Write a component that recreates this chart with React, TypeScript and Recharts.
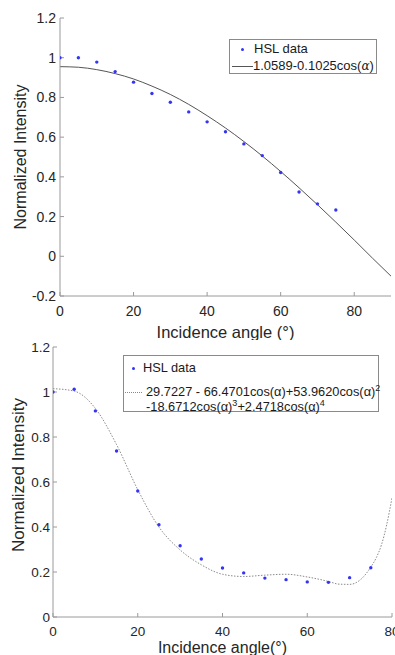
import React from 'react';
import { ComposedChart, Line, Scatter, XAxis, YAxis, Legend, Label } from 'recharts';

const FONT = '"Liberation Sans", Arial, Helvetica, sans-serif';

// ---- Top chart data ----
const topAngles = [0, 5, 10, 15, 20, 25, 30, 35, 40, 45, 50, 55, 60, 65, 70, 75];
const topIntensity = [1.0, 1.0, 0.978, 0.93, 0.877, 0.82, 0.776, 0.727, 0.677, 0.627, 0.566, 0.507, 0.422, 0.324, 0.264, 0.233];
const topFitAngles = [0, 5, 10, 15, 20, 25, 30, 35, 40, 45, 50, 55, 60, 65, 70, 75, 80, 85, 90];
const topFitValues = [0.955, 0.952, 0.94, 0.92, 0.893, 0.857, 0.815, 0.765, 0.708, 0.646, 0.578, 0.505, 0.427, 0.345, 0.26, 0.172, 0.082, -0.01, -0.1];
const topXTicks = [0, 20, 40, 60, 80];
const topYTicks = [-0.2, 0, 0.2, 0.4, 0.6, 0.8, 1, 1.2];

// ---- Bottom chart data ----
const bottomAngles = [0, 5, 10, 15, 20, 25, 30, 35, 40, 45, 50, 55, 60, 65, 70, 75];
const bottomIntensity = [1.0, 1.012, 0.916, 0.738, 0.56, 0.41, 0.317, 0.258, 0.218, 0.196, 0.173, 0.166, 0.156, 0.154, 0.175, 0.219];
const bottomFitAngles = [0, 5, 10, 15, 20, 25, 30, 35, 40, 45, 50, 55, 60, 65, 67.5, 70, 72.5, 75, 76.25, 77.5, 78.75, 80];
const bottomFitValues = [1.015, 1.004, 0.927, 0.766, 0.566, 0.4, 0.298, 0.232, 0.19, 0.18, 0.186, 0.19, 0.178, 0.158, 0.146, 0.145, 0.165, 0.222, 0.262, 0.32, 0.41, 0.53];
const bottomXTicks = [0, 20, 40, 60, 80];
const bottomYTicks = [0, 0.2, 0.4, 0.6, 0.8, 1, 1.2];

const topPoints = topAngles.map((x, i) => ({ x, y: topIntensity[i] }));
const topFit = topFitAngles.map((x, i) => ({ x, y: topFitValues[i] }));
const bottomPoints = bottomAngles.map((x, i) => ({ x, y: bottomIntensity[i] }));
const bottomFit = bottomFitAngles.map((x, i) => ({ x, y: bottomFitValues[i] }));

const AXIS = '#9a9a9a';
const TEXT = '#262626';
const BLUE = '#3434f4';

const fmt = (v: number) => String(Math.round(v * 10) / 10);
const noTick = () => <g />;
const dotShape = (p: any) => <circle cx={p.cx} cy={p.cy} r={1.7} fill={BLUE} />;

const TopLegend = () => (
  <div style={{ position: 'relative', width: 148, height: 35, border: '1px solid #8a8a8a', background: '#fff', boxSizing: 'border-box', fontFamily: FONT, fontSize: 13, color: '#1a1a1a' }}>
    <span style={{ position: 'absolute', left: 11, top: 8, width: 3.4, height: 3.4, borderRadius: 2, background: BLUE }} />
    <span style={{ position: 'absolute', left: 24, top: 1, lineHeight: '16px', whiteSpace: 'nowrap' }}>HSL data</span>
    <span style={{ position: 'absolute', left: 2, top: 26, width: 21, height: 1, background: '#555' }} />
    <span style={{ position: 'absolute', left: 23, top: 18, lineHeight: '16px', whiteSpace: 'nowrap' }}>
      1.0589-0.1025cos(<i style={{ fontFamily: '"DejaVu Serif", serif', fontSize: 12 }}>α</i>)
    </span>
  </div>
);

const BottomLegend = () => (
  <div style={{ position: 'relative', width: 256, height: 57, border: '1px solid #8a8a8a', background: '#fff', boxSizing: 'border-box', fontFamily: FONT, fontSize: 12.8, color: '#1a1a1a' }}>
    <span style={{ position: 'absolute', left: 8, top: 11, width: 3.4, height: 3.4, borderRadius: 2, background: BLUE }} />
    <span style={{ position: 'absolute', left: 19, top: 4, lineHeight: '16px', whiteSpace: 'nowrap' }}>HSL data</span>
    <span style={{ position: 'absolute', left: 1, top: 36, width: 17, height: 0, borderTop: '1px dotted #888' }} />
    <span style={{ position: 'absolute', left: 22, top: 24, lineHeight: '16px', whiteSpace: 'nowrap' }}>
      29.7227 - 66.4701cos(α)+53.9620cos(α)<sup style={{ fontSize: 9 }}>2</sup>
    </span>
    <span style={{ position: 'absolute', left: 22, top: 39, lineHeight: '16px', whiteSpace: 'nowrap' }}>
      -18.6712cos(α)<sup style={{ fontSize: 9 }}>3</sup>+2.4718cos(α)<sup style={{ fontSize: 9 }}>4</sup>
    </span>
  </div>
);

export default function App() {
  return (
    <div style={{ position: 'absolute', left: 0, top: 0, width: 395, height: 655, background: '#fff', overflow: 'hidden' }}>
      <div style={{ position: 'absolute', left: 0, top: 0 }}>
        <ComposedChart width={395} height={340} margin={{ top: 18, right: 4, bottom: 0, left: 0 }}>
          <XAxis xAxisId={0} dataKey="x" type="number" domain={[0, 90]} ticks={topXTicks} interval={0}
            stroke={AXIS} tickSize={-4} tickMargin={14} height={44} allowDataOverflow
            tick={{ fill: TEXT, fontSize: 14, fontFamily: FONT }}>
            <Label value="Incidence angle (°)" position="insideBottom" offset={2} style={{ fill: TEXT, fontSize: 16.5, fontFamily: FONT }} />
          </XAxis>
          <XAxis xAxisId="t" orientation="top" type="number" domain={[0, 90]} ticks={topXTicks} interval={0}
            stroke={AXIS} tickSize={-4} height={0} tick={noTick} allowDataOverflow />
          <YAxis yAxisId={0} type="number" domain={[-0.2, 1.2]} ticks={topYTicks} interval={0} tickFormatter={fmt}
            stroke={AXIS} tickSize={-4} tickMargin={8} width={60} allowDataOverflow
            tick={{ fill: TEXT, fontSize: 14, fontFamily: FONT }}>
            <Label value="Normalized Intensity" angle={-90} position="center" dx={-10} style={{ fill: TEXT, fontSize: 16, fontFamily: FONT }} />
          </YAxis>
          <YAxis yAxisId="r" orientation="right" type="number" domain={[-0.2, 1.2]} ticks={topYTicks} interval={0}
            stroke={AXIS} tickSize={-4} width={0} tick={noTick} allowDataOverflow />
          <Line data={topFit} dataKey="y" type="monotone" dot={false} stroke="#555" strokeWidth={1} isAnimationActive={false} />
          <Scatter data={topPoints} dataKey="y" shape={dotShape} isAnimationActive={false} />
          <Legend layout="horizontal" verticalAlign="middle" content={TopLegend}
            wrapperStyle={{ left: 229, top: 39, width: 148, height: 35 }} />
        </ComposedChart>
      </div>
      <div style={{ position: 'absolute', left: 0, top: 340 }}>
        <ComposedChart width={395} height={315} margin={{ top: 7, right: 3, bottom: 0, left: 0 }}>
          <XAxis xAxisId={0} dataKey="x" type="number" domain={[0, 80]} ticks={bottomXTicks} interval={0}
            stroke={AXIS} tickSize={-4} tickMargin={13} height={38} allowDataOverflow
            tick={{ fill: TEXT, fontSize: 13.5, fontFamily: FONT }}>
            <Label value="Incidence angle(°)" position="insideBottom" offset={2} style={{ fill: TEXT, fontSize: 16, fontFamily: FONT }} />
          </XAxis>
          <XAxis xAxisId="t" orientation="top" type="number" domain={[0, 80]} ticks={bottomXTicks} interval={0}
            stroke={AXIS} tickSize={-4} height={0} tick={noTick} allowDataOverflow />
          <YAxis yAxisId={0} type="number" domain={[0, 1.2]} ticks={bottomYTicks} interval={0} tickFormatter={fmt}
            stroke={AXIS} tickSize={-4} tickMargin={7} width={53} allowDataOverflow
            tick={{ fill: TEXT, fontSize: 13.5, fontFamily: FONT }}>
            <Label value="Normalized Intensity" angle={-90} position="center" dx={-9} dy={-7} style={{ fill: TEXT, fontSize: 17, fontFamily: FONT }} />
          </YAxis>
          <YAxis yAxisId="r" orientation="right" type="number" domain={[0, 1.2]} ticks={bottomYTicks} interval={0}
            stroke={AXIS} tickSize={-4} width={0} tick={noTick} allowDataOverflow />
          <Line data={bottomFit} dataKey="y" type="monotone" dot={false} stroke="#8a8a8a" strokeWidth={1} strokeDasharray="1.5 1.5" isAnimationActive={false} />
          <Scatter data={bottomPoints} dataKey="y" shape={dotShape} isAnimationActive={false} />
          <Legend layout="horizontal" verticalAlign="middle" content={BottomLegend}
            wrapperStyle={{ left: 123, top: 15, width: 256, height: 57 }} />
        </ComposedChart>
      </div>
    </div>
  );
}
